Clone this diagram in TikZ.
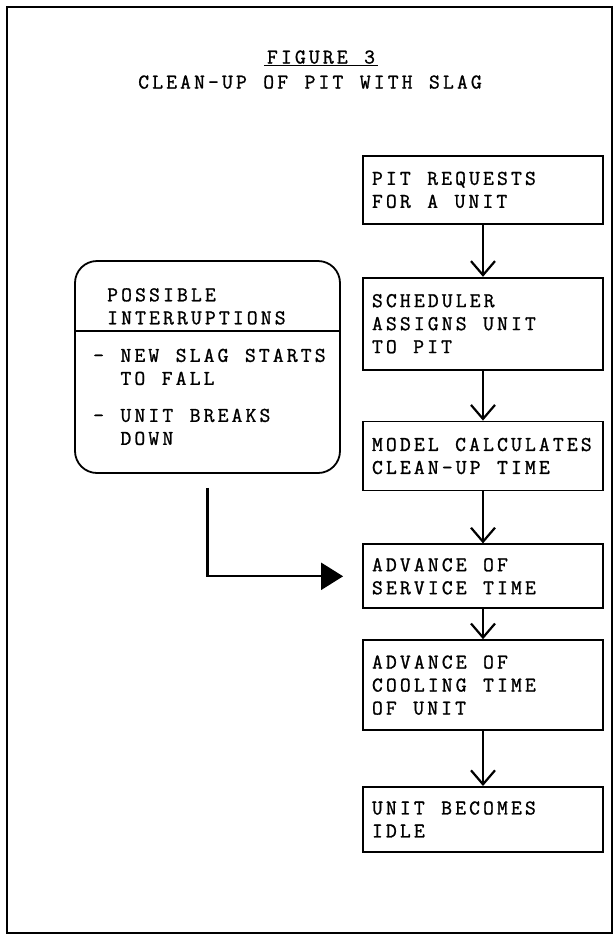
\documentclass[tikz,border=0pt]{standalone}
\usepackage{fontspec}
\newfontfamily\typewriter{Latin Modern Mono}[LetterSpace=15, FakeBold=1.2]
\newcommand\wordgap{\spaceskip=16.5pt\relax}
\usetikzlibrary{arrows.meta, positioning}

\begin{document}
\begin{tikzpicture}[
    x=1pt, y=-1pt,
    every node/.style={
        font=\typewriter\fontsize{21}{23}\selectfont,
        execute at begin node={\wordgap}
    },
    taskbox/.style={
        rectangle,
        draw,
        line width=1.8pt,
        minimum width=240pt,
        text width=240pt,
        inner xsep=0pt,
        inner ysep=0pt,
        execute at begin node={\wordgap\raggedright\leftskip=9pt\relax}
    },
    notebox/.style={
        rectangle,
        draw,
        line width=1.8pt,
        rounded corners=22pt,
        minimum width=265pt,
        minimum height=212pt
    },
    flow/.style={
        -{Straight Barb[length=14pt, width=24pt]},
        line width=2.2pt
    },
    feed/.style={
        -{Triangle[length=22pt, width=27pt]},
        line width=2.2pt
    }
]
    \useasboundingbox (0,0) rectangle (615,935);
    % page frame
    \draw[line width=2.6pt] (7,7) rectangle (612,933);

    % title
    \node[anchor=base, inner xsep=3pt] (figure) at (321,63.5) {FIGURE 3};
    \draw[line width=1.4pt] ([yshift=-2pt]figure.base west) -- ([yshift=-2pt]figure.base east);
    \node[anchor=base] (title) at (310,88.5) {CLEAN-UP OF PIT WITH SLAG};

    % main column of steps
    \node[taskbox, minimum height=68pt, anchor=north] (request) at (483,155) {PIT REQUESTS\\FOR A UNIT};
    \node[taskbox, minimum height=92pt, below=52pt of request] (assign) {SCHEDULER\\ASSIGNS UNIT\\TO PIT};
    \node[taskbox, minimum height=69pt, below=50pt of assign] (calculate) {MODEL CALCULATES\\CLEAN-UP TIME};
    \node[taskbox, minimum height=64pt, below=52pt of calculate] (service) {ADVANCE OF\\SERVICE TIME};
    \node[taskbox, minimum height=90pt, below=30pt of service] (cooling) {ADVANCE OF\\COOLING TIME\\OF UNIT};
    \node[taskbox, minimum height=65pt, below=55pt of cooling] (idle) {UNIT BECOMES\\IDLE};

    % interruptions box on the left
    \node[notebox] (interrupt) at (207.5,367) {};
    \node[anchor=north west, inner sep=0pt, align=left] (header) at (107,288) {POSSIBLE\\INTERRUPTIONS};
    \path (header.south) ++(0,6) coordinate (split);
    \draw[line width=1.8pt] (split -| interrupt.west) -- (split -| interrupt.east);
    \node[anchor=north west, inner sep=0pt, align=left] (causes) at (93,348.5)
        {- NEW SLAG STARTS\\\hphantom{- }TO FALL\\[14pt]- UNIT BREAKS\\\hphantom{- }DOWN};

    % arrows
    \draw[flow] (request) -- (assign);
    \draw[flow] (assign) -- (calculate);
    \draw[flow] (calculate) -- (service);
    \draw[flow] (service) -- (cooling);
    \draw[flow] (cooling) -- (idle);
    \draw[feed] ([yshift=-14pt]interrupt.south) |- ([xshift=-19pt]service.west);

\end{tikzpicture}
\end{document}
